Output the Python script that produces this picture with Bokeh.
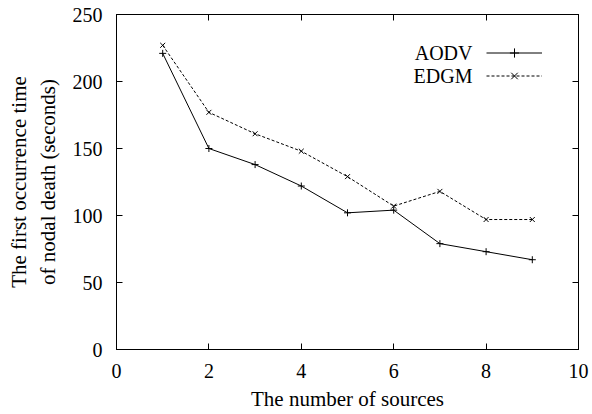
from bokeh.plotting import figure
from bokeh.models import (LinearAxis, FixedTicker, Range1d, Legend, LegendItem,
                          Label, CustomJSTickFormatter)
from bokeh.embed import file_html
from bokeh.resources import INLINE

# Number of sources and the first time a node dies (seconds)
sources = [1, 2, 3, 4, 5, 6, 7, 8, 9]
aodv = [221, 150, 138, 122, 102, 104, 79, 73, 67]
edgm = [227, 177, 161, 148, 129, 107, 118, 97, 97]

x_ticks = [0, 2, 4, 6, 8, 10]
y_ticks = [0, 50, 100, 150, 200, 250]

FONT = "Liberation Serif"

p = figure(width=592, height=414, frame_width=462, frame_height=335,
           output_backend="svg", toolbar_location=None,
           x_range=Range1d(0, 10), y_range=Range1d(0, 250),
           min_border_left=116, min_border_right=14,
           min_border_top=14, min_border_bottom=65)

p.grid.visible = False
p.background_fill_color = "white"
p.border_fill_color = "white"
p.outline_line_color = "black"
p.outline_line_width = 1

p.xaxis.ticker = FixedTicker(ticks=x_ticks)
p.yaxis.ticker = FixedTicker(ticks=y_ticks)
for ax in (p.xaxis[0], p.yaxis[0]):
    ax.major_tick_in = 6
    ax.major_tick_out = 0
    ax.minor_tick_in = 0
    ax.minor_tick_out = 0
    ax.axis_line_color = "black"
    ax.major_tick_line_color = "black"
    ax.major_label_text_font = FONT
    ax.major_label_text_font_size = "20px"
    ax.major_label_text_color = "black"
    ax.axis_label_text_font = FONT
    ax.axis_label_text_font_style = "normal"
    ax.axis_label_text_color = "black"
    ax.axis_label_text_font_size = "21px"

p.xaxis.major_label_standoff = 14
p.yaxis.major_label_standoff = 14
p.xaxis.axis_label = "The number of sources"
p.xaxis.axis_label_standoff = 6
p.yaxis.axis_label = "The first occurrence time\nof nodal death (seconds)"
p.yaxis.axis_label_standoff = 10

# mirrored tick marks on the top and right edges
blank = CustomJSTickFormatter(code="return ''")
top = LinearAxis(ticker=FixedTicker(ticks=x_ticks), formatter=blank)
right = LinearAxis(ticker=FixedTicker(ticks=y_ticks), formatter=blank)
for ax in (top, right):
    ax.major_tick_in = 6
    ax.major_tick_out = 0
    ax.minor_tick_in = 0
    ax.minor_tick_out = 0
    ax.major_label_standoff = 0
    ax.major_label_text_font_size = "1px"
p.add_layout(top, "above")
p.add_layout(right, "right")

r1 = p.line(sources, aodv, line_color="black", line_width=1)
m1 = p.scatter(sources, aodv, marker="cross", size=7, line_color="black")
r2 = p.line(sources, edgm, line_color="black", line_width=1, line_dash="3 2")
m2 = p.scatter(sources, edgm, marker="x", size=7, line_color="black")

legend = Legend(items=[LegendItem(label=" ", renderers=[r1, m1]),
                       LegendItem(label=" ", renderers=[r2, m2])],
                location=(370, 262), orientation="vertical",
                glyph_width=56, glyph_height=23, label_height=23,
                label_width=0, label_standoff=0, spacing=0,
                padding=0, margin=0, border_line_color=None,
                background_fill_alpha=0, label_text_font_size="1px")
p.add_layout(legend, "center")

for name, yy in (("AODV", 297), ("EDGM", 274)):
    p.add_layout(Label(x=356, y=yy, x_units="screen", y_units="screen",
                       text=name, text_align="right", text_baseline="middle",
                       text_font=FONT, text_font_size="20px",
                       text_color="black"))

open("out.html", "w").write(file_html(p, INLINE))
